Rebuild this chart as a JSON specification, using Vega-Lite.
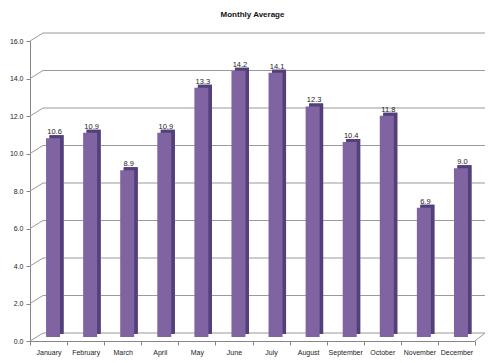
{
  "$schema": "https://vega.github.io/schema/vega-lite/v6.json",
  "autosize": "none",
  "width": 445,
  "height": 300,
  "padding": {"left": 30, "top": 41, "right": 25, "bottom": 22},
  "background": "white",
  "title": {"text": "Monthly Average", "fontSize": 8, "font": "Liberation Sans", "fontWeight": "bold", "color": "#111", "anchor": "middle", "offset": 13},
  "config": {
    "view": {"stroke": null},
    "axis": {"title": null, "labelFont": "Liberation Sans", "labelFontSize": 7, "labelColor": "#222", "domainColor": "#868686", "tickColor": "#868686", "tickSize": 4, "labelPadding": 3, "grid": false},
    "axisY": {"labelOverlap": false, "labelBound": false, "labelFlush": false, "tickCount": 8, "format": ".1f"},
    "axisX": {"labelAngle": 0, "bandPosition": 0.5, "tickBand": "extent"}
  },
  "datasets": {
    "months": [
      {"month": "January", "avg": 10.6},
      {"month": "February", "avg": 10.9},
      {"month": "March", "avg": 8.9},
      {"month": "April", "avg": 10.9},
      {"month": "May", "avg": 13.3},
      {"month": "June", "avg": 14.2},
      {"month": "July", "avg": 14.1},
      {"month": "August", "avg": 12.3},
      {"month": "September", "avg": 10.4},
      {"month": "October", "avg": 11.8},
      {"month": "November", "avg": 6.9},
      {"month": "December", "avg": 9.0}
    ],
    "grid": [{"v": 0}, {"v": 2}, {"v": 4}, {"v": 6}, {"v": 8}, {"v": 10}, {"v": 12}, {"v": 14}, {"v": 16}],
    "floor": [{"v": 0}]
  },
  "layer": [
    {
      "data": {"name": "months"},
      "mark": {"type": "bar", "width": 14, "xOffset": 8, "yOffset": -7, "color": "#52407a"},
      "encoding": {
        "x": {"field": "month", "type": "nominal", "sort": null, "title": null,
              "scale": {"paddingInner": 0, "paddingOuter": 0}},
        "y": {"field": "avg", "type": "quantitative", "title": null,
              "scale": {"domain": [0, 16], "nice": false}}
      }
    },
    {
      "data": {"name": "grid"},
      "mark": {"type": "rule", "color": "#9a9a9a", "strokeWidth": 1.2, "xOffset": -5.5, "x2Offset": 28.5, "yOffset": -8, "y2Offset": -8},
      "encoding": {
        "x": {"datum": "January"},
        "x2": {"datum": "December"},
        "y": {"field": "v", "type": "quantitative", "title": null},
        "y2": {"field": "v"}
      }
    },
    {
      "data": {"name": "grid"},
      "mark": {"type": "rule", "color": "#9a9a9a", "strokeWidth": 1, "xOffset": -18.5, "x2Offset": -5.5, "y2Offset": -8},
      "encoding": {
        "x": {"datum": "January"},
        "x2": {"datum": "January"},
        "y": {"field": "v", "type": "quantitative", "title": null},
        "y2": {"field": "v"}
      }
    },
    {
      "data": {"name": "floor"},
      "mark": {"type": "rule", "color": "#9a9a9a", "strokeWidth": 1, "xOffset": 18.5, "x2Offset": 28.5, "y2Offset": -8},
      "encoding": {
        "x": {"datum": "December"},
        "x2": {"datum": "December"},
        "y": {"field": "v", "type": "quantitative", "title": null},
        "y2": {"field": "v"}
      }
    },
    {
      "data": {"name": "months"},
      "mark": {"type": "bar", "width": 14, "xOffset": 8, "yOffset": -7, "color": "#52407a"},
      "encoding": {
        "x": {"field": "month", "type": "nominal", "sort": null, "title": null},
        "y": {"field": "avg", "type": "quantitative", "title": null}
      }
    },
    {
      "data": {"name": "months"},
      "mark": {"type": "bar", "width": 14, "xOffset": 4.5, "yOffset": -4, "color": "#8064a2"},
      "encoding": {
        "x": {"field": "month", "type": "nominal", "sort": null, "title": null},
        "y": {"field": "avg", "type": "quantitative", "title": null}
      }
    },
    {
      "data": {"name": "months"},
      "mark": {"type": "text", "font": "Liberation Sans", "fontSize": 7.5, "color": "#1a1a1a", "baseline": "bottom", "xOffset": 6, "yOffset": -6},
      "encoding": {
        "x": {"field": "month", "type": "nominal", "sort": null, "title": null},
        "y": {"field": "avg", "type": "quantitative", "title": null},
        "text": {"field": "avg", "type": "quantitative", "format": ".1f"}
      }
    }
  ]
}
